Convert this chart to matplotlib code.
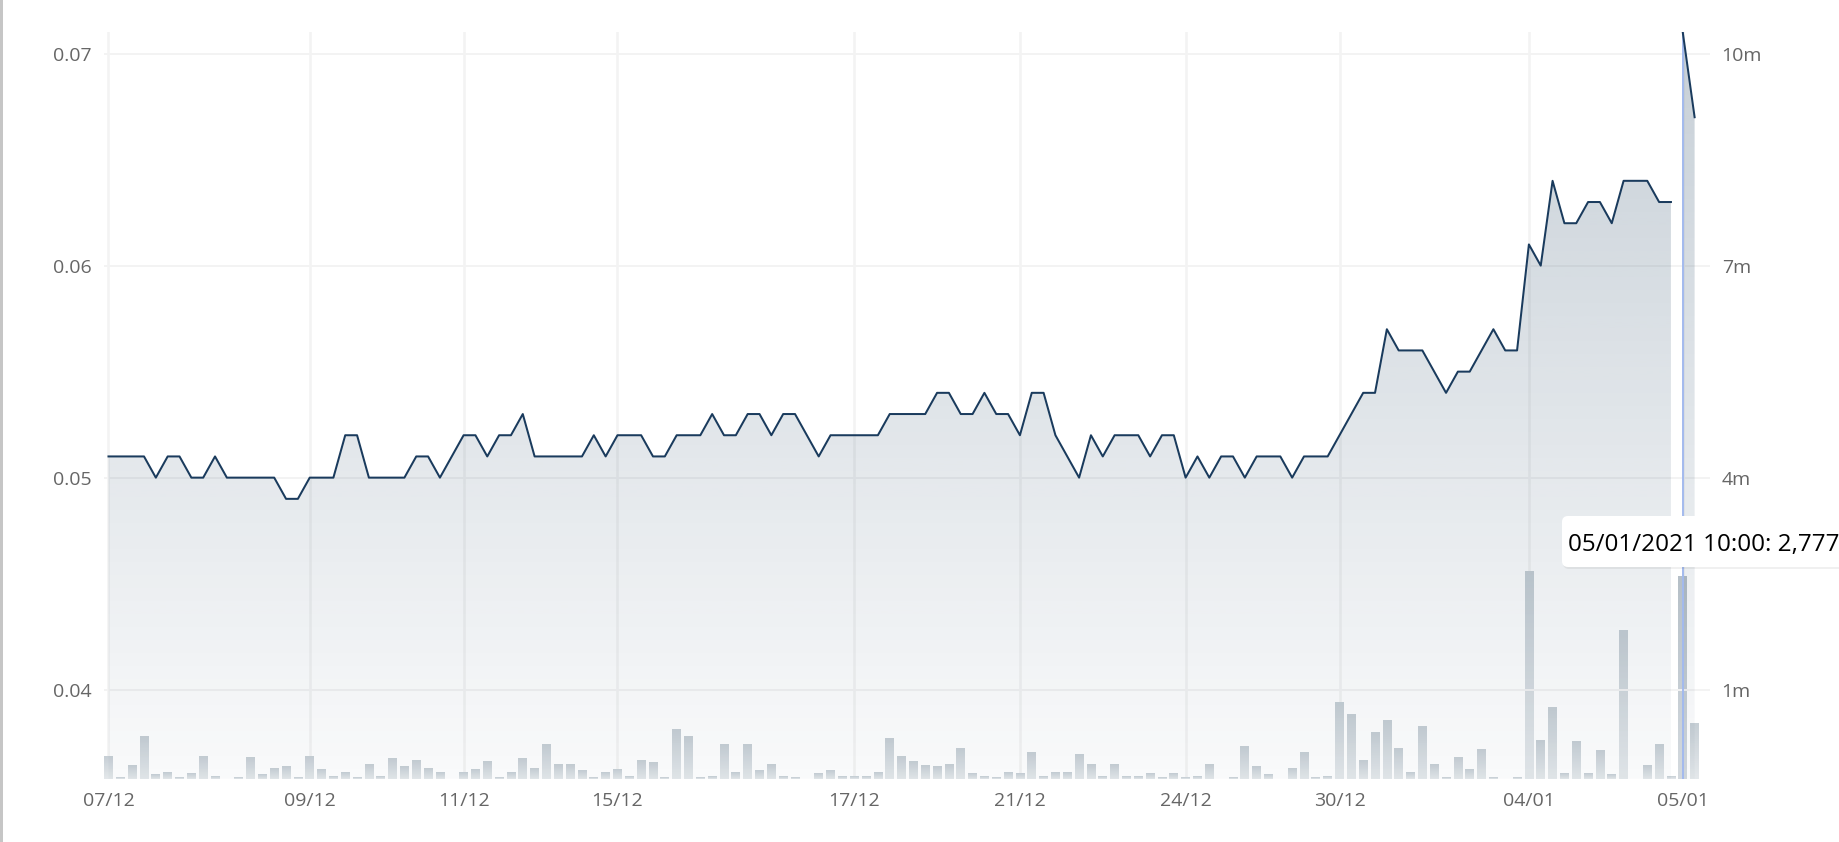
import numpy as np
import matplotlib
matplotlib.use("Agg")
import matplotlib.pyplot as plt
from matplotlib.path import Path
from matplotlib.patches import PathPatch, FancyBboxPatch, Rectangle
from matplotlib.transforms import IdentityTransform
from matplotlib.colors import to_rgb

plt.rcParams['font.family'] = ['Open Sans', 'DejaVu Sans']

# ---------------- data ----------------
tick_index = [0, 17, 30, 43, 63, 77, 91, 104, 120, 133]
tick_labels = ['07/12', '09/12', '11/12', '15/12', '17/12', '21/12', '24/12', '30/12', '04/01', '05/01']

price = [0.051, 0.051, 0.051, 0.051, 0.050, 0.051, 0.051, 0.050, 0.050, 0.051,
         0.050, 0.050, 0.050, 0.050, 0.050, 0.049, 0.049, 0.050, 0.050, 0.050,
         0.052, 0.052, 0.050, 0.050, 0.050, 0.050, 0.051, 0.051, 0.050, 0.051,
         0.052, 0.052, 0.051, 0.052, 0.052, 0.053, 0.051, 0.051, 0.051, 0.051,
         0.051, 0.052, 0.051, 0.052, 0.052, 0.052, 0.051, 0.051, 0.052, 0.052,
         0.052, 0.053, 0.052, 0.052, 0.053, 0.053, 0.052, 0.053, 0.053, 0.052,
         0.051, 0.052, 0.052, 0.052, 0.052, 0.052, 0.053, 0.053, 0.053, 0.053,
         0.054, 0.054, 0.053, 0.053, 0.054, 0.053, 0.053, 0.052, 0.054, 0.054,
         0.052, 0.051, 0.050, 0.052, 0.051, 0.052, 0.052, 0.052, 0.051, 0.052,
         0.052, 0.050, 0.051, 0.050, 0.051, 0.051, 0.050, 0.051, 0.051, 0.051,
         0.050, 0.051, 0.051, 0.051, 0.052, 0.053, 0.054, 0.054, 0.057, 0.056,
         0.056, 0.056, 0.055, 0.054, 0.055, 0.055, 0.056, 0.057, 0.056, 0.056,
         0.061, 0.060, 0.064, 0.062, 0.062, 0.063, 0.063, 0.062, 0.064, 0.064,
         0.064, 0.063, 0.063, 0.071, 0.067]

volume_k = [316, 14, 179, 578, 55, 96, 14, 69, 316, 41,
            0, 14, 289, 55, 138, 165, 14, 303, 124, 41,
            83, 14, 193, 28, 275, 165, 261, 138, 96, 0,
            96, 124, 234, 14, 83, 275, 151, 468, 206, 193,
            110, 14, 96, 124, 28, 261, 220, 14, 674, 578,
            14, 28, 468, 96, 468, 110, 193, 28, 14, 0,
            69, 110, 28, 41, 28, 96, 550, 316, 234, 179,
            165, 193, 426, 69, 28, 14, 96, 69, 358, 28,
            96, 83, 330, 193, 28, 193, 28, 28, 69, 14,
            69, 14, 28, 193, 0, 14, 440, 165, 55, 0,
            138, 371, 14, 28, 1045, 880, 261, 633, 798, 413,
            83, 715, 206, 14, 289, 124, 399, 14, 0, 14,
            2847, 523, 977, 69, 509, 69, 385, 55, 2036, 0,
            179, 468, 41, 2777, 757]
volume = [v * 1000 for v in volume_k]

price_ticks = [0.04, 0.05, 0.06, 0.07]
hover_index = 133
hover_label = "05/01/2021 10:00"
segment_break = 133   # line/area is not joined between 132 and 133

# ---------------- layout ----------------
W, H = 1840, 842
fig = plt.figure(figsize=(W / 100, H / 100), dpi=100)
fig.patch.set_facecolor('white')

L, R, T, B = 104, 1710, 32.2, 778.7
axv = fig.add_axes([L / W, 1 - B / H, (R - L) / W, (B - T) / H])
axp = axv.twinx()
axv.yaxis.tick_right()
axp.yaxis.tick_left()

P_MIN, P_MAX = 0.0358, 0.07101
V_MAX = 10.26e6
X_MIN, X_MAX = -0.38, 135.3

idx = np.arange(len(price))
price_a = np.array(price)

# ---------------- volume bars (per-bar vertical gradient) ----------------
bar_w = 0.735
n = 32
t = np.linspace(0, 1, n)[:, None]
top_c, bot_c = np.array(to_rgb('#c7cfd5')), np.array(to_rgb('#e4e8eb'))
top_h, bot_h = np.array(to_rgb('#b6c0c8')), np.array(to_rgb('#d3d9de'))
for i, v in enumerate(volume):
    if v <= 0:
        continue
    tc, bc = (top_h, bot_h) if i == hover_index else (top_c, bot_c)
    img = (tc[None, :] * (1 - t) + bc[None, :] * t)[:, None, :]
    axv.imshow(img, extent=(i - bar_w / 2, i + bar_w / 2, 0, v), origin='upper',
               aspect='auto', interpolation='bilinear', zorder=2)

# ---------------- area fill with gradient ----------------
def area_path(xs, ys, base):
    verts = [(xs[0], base)] + list(zip(xs, ys)) + [(xs[-1], base), (xs[0], base)]
    codes = [Path.MOVETO] + [Path.LINETO] * (len(verts) - 2) + [Path.CLOSEPOLY]
    return Path(verts, codes)

pa = area_path(idx[:segment_break], price_a[:segment_break], P_MIN)
pb = area_path(idx[segment_break:], price_a[segment_break:], P_MIN)
clip = PathPatch(Path.make_compound_path(pa, pb), transform=axp.transData,
                 facecolor='none', edgecolor='none')
axp.add_patch(clip)

grad = np.zeros((256, 1, 4))
grad[..., :3] = to_rgb('#1c3f5e')
grad[..., 3] = np.linspace(0.25, 0.025, 256)[:, None]
im = axp.imshow(grad, extent=(X_MIN, X_MAX, P_MIN, P_MAX), origin='upper',
                aspect='auto', interpolation='bilinear', zorder=1)
im.set_clip_path(clip)

# crosshair
axp.axvline(hover_index, color='#a3baee', lw=1.4, zorder=2.5)

# price line
axp.plot(idx[:segment_break], price_a[:segment_break], color='#1a3b5d', lw=1.45, zorder=3)
axp.plot(idx[segment_break:], price_a[segment_break:], color='#1a3b5d', lw=1.45, zorder=3)

# ---------------- axes styling ----------------
axv.set_xlim(X_MIN, X_MAX)
axv.set_ylim(0, V_MAX)
axp.set_ylim(P_MIN, P_MAX)

axp.set_yticks(price_ticks)
axp.set_yticklabels([f"{p:.2f}" for p in price_ticks])
vt = [(p - P_MIN) / (P_MAX - P_MIN) * V_MAX for p in price_ticks]
axv.set_yticks(vt)
axv.set_yticklabels([f"{round(v / 1e6)}m" for v in vt])
axv.set_xticks(tick_index)
axv.set_xticklabels(tick_labels)

axp.tick_params(axis='y', length=0, pad=8.9, labelsize=14, labelcolor='#666666')
axv.tick_params(axis='y', length=0, pad=8.4, labelsize=14, labelcolor='#666666')
axv.tick_params(axis='x', length=0, pad=9.5, labelsize=14, labelcolor='#666666')

axv.grid(axis='x', color='#f3f3f3', lw=1.8)
axv.grid(axis='y', visible=False)
axp.grid(axis='y', color='#f3f3f3', lw=1.4)
axv.set_axisbelow(True)
axp.set_axisbelow(True)
for a in (axv, axp):
    for s in a.spines.values():
        s.set_visible(False)

# ---------------- window border & tooltip ----------------
fig.add_artist(Rectangle((0, 0), 3, H, transform=IdentityTransform(),
                         facecolor='#c6c6c6', edgecolor='none', zorder=5))

shadow = FancyBboxPatch((1563, H - 569), 400, 51, boxstyle='round,pad=0,rounding_size=6',
                        transform=IdentityTransform(), facecolor='black', alpha=0.06,
                        edgecolor='none', zorder=9)
fig.add_artist(shadow)
box = FancyBboxPatch((1562, H - 567), 400, 51, boxstyle='round,pad=0,rounding_size=6',
                     transform=IdentityTransform(), facecolor='white', edgecolor='none', zorder=10)
fig.add_artist(box)
fig.text(1568 / W, (H - 551) / H, f"{hover_label}: {volume[hover_index]:,}",
         fontsize=17.5, color='black', ha='left', va='baseline', zorder=11)

fig.savefig('out.png', dpi=100, facecolor='white')
